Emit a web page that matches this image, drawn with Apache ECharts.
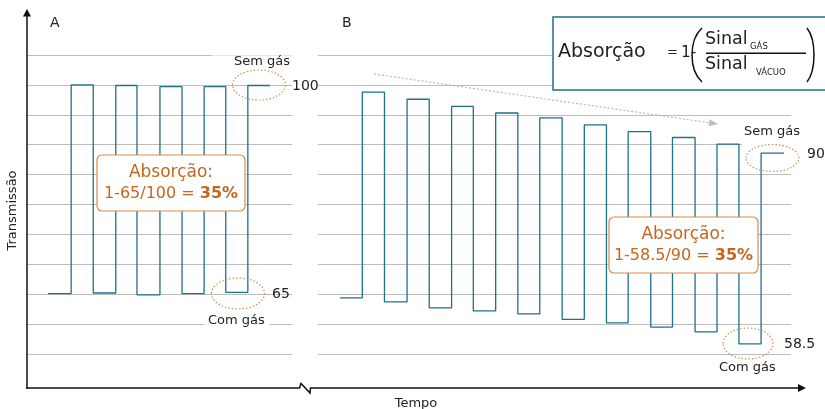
<!DOCTYPE html>
<html><head><meta charset="utf-8">
<script src="https://cdn.jsdelivr.net/npm/echarts@6/dist/echarts.min.js"></script>
<style>html,body{margin:0;padding:0;background:#fff}#c{width:825px;height:409px}</style>
</head><body><div id="c"></div>
<script>
// Panel A: time points where the signal level changes, and the level held from each point
const timeA = [0.95, 2, 3, 4.02, 4.98, 6.02, 7.02, 8.02, 9, 10, 11];
const levelA = [65.1, 100, 65.2, 99.9, 64.9, 99.7, 65.1, 99.7, 65.3, 99.9, 99.9];
// Panel B
const timeB = [1, 2, 3, 4.02, 5.02, 6.03, 7.01, 8.02, 9.02, 10.01, 11.02, 12.02, 13.02, 14, 15.02, 16, 17.02, 18.01, 19, 20, 21.03];
const levelB = [64.4, 98.8, 63.7, 97.6, 62.7, 96.4, 62.2, 95.3, 61.7, 94.5, 60.8, 93.3, 60.2, 92.2, 59.5, 91.2, 58.7, 90.1, 56.7, 88.6, 88.6];
// Value axis range and gridline step
const yMin = 55, yMax = 105, yStep = 5;
// Reference value labels
const refLabelsA = ['100', '65'];
const refLabelsB = ['90', '58.5'];
const boxTextA = ['Absorção:', '1-65/100 = ', '35%'];
const boxTextB = ['Absorção:', '1-58.5/90 = ', '35%'];

const FONT = "'DejaVu Sans', sans-serif";
const TXT = '#222';
const ORANGE = '#c4661f';
const ORANGE_LINE = '#d98b4c';
const TEAL = '#1f6f8f';

function txt(x, y, text, size, opts) {
  opts = opts || {};
  return {
    type: 'text', x: x, y: y, z: opts.z || 20, rotation: opts.rotation || 0,
    style: {
      text: text, font: (opts.weight || 'normal') + ' ' + size + 'px ' + FONT,
      fill: opts.fill || TXT,
      align: opts.align || 'left', textAlign: opts.align || 'left',
      verticalAlign: 'middle', textVerticalAlign: 'middle'
    }
  };
}
function ellipse(cx, cy, rx, ry) {
  return { type: 'ellipse', z: 15, shape: { cx: cx, cy: cy, rx: rx, ry: ry },
    style: { fill: 'none', stroke: ORANGE_LINE, lineWidth: 1.2, lineDash: [1.5, 2] } };
}
function whiteRect(x, y, w, h, op) {
  return { type: 'rect', z: 5, shape: { x: x, y: y, width: w, height: h },
    style: { fill: 'rgba(255,255,255,' + (op || 1) + ')' } };
}
function absBox(x, y, w, h, lines) {
  return [
    { type: 'rect', z: 12, shape: { x: x, y: y, width: w, height: h, r: 5 },
      style: { fill: '#fff', stroke: ORANGE_LINE, lineWidth: 1.2 } },
    { type: 'text', z: 13, x: x + w / 2, y: y + h / 2,
      style: {
        text: '{a|' + lines[0] + '}\n' + lines[1] + '{b|' + lines[2] + '}',
        font: '16px ' + FONT, fill: ORANGE, lineHeight: 21,
        align: 'center', textAlign: 'center', verticalAlign: 'middle', textVerticalAlign: 'middle',
        rich: {
          a: { fontSize: 17, fontFamily: FONT, fill: ORANGE, color: ORANGE, lineHeight: 21 },
          b: { fontWeight: 'bold', fontSize: 16, fontFamily: FONT, fill: ORANGE, color: ORANGE, lineHeight: 21 }
        }
      } }
  ];
}

const chart = echarts.init(document.getElementById('c'), null, { renderer: 'canvas' });

const yAxisBase = {
  type: 'value', min: yMin, max: yMax, interval: yStep,
  axisLine: { show: false }, axisTick: { show: false }, axisLabel: { show: false },
  splitLine: { show: true, lineStyle: { color: '#bdbdbd', width: 1.2 } }
};
const xAxisBase = {
  type: 'value', axisLine: { show: false }, axisTick: { show: false },
  axisLabel: { show: false }, splitLine: { show: false }
};

const graphics = [
  // axes
  { type: 'line', z: 20, shape: { x1: 27, y1: 389, x2: 27, y2: 15 }, style: { stroke: '#111', lineWidth: 1.5 } },
  { type: 'polygon', z: 20, shape: { points: [[27, 9], [23, 16.5], [31, 16.5]] }, style: { fill: '#111' } },
  { type: 'polyline', z: 20, shape: { points: [[26.3, 388], [299.5, 388], [301, 383.5], [310, 393], [310.5, 388], [799, 388]] },
    style: { stroke: '#111', lineWidth: 1.5, fill: 'none' } },
  { type: 'polygon', z: 20, shape: { points: [[806, 388], [798, 384], [798, 392]] }, style: { fill: '#111' } },

  // covers behind labels
  whiteRect(212, 50, 80, 22, 0.6),
  whiteRect(204, 313, 66, 17),
  whiteRect(742, 123, 58, 24),

  // formula box
  { type: 'rect', z: 12, shape: { x: 553, y: 17, width: 290, height: 73 },
    style: { fill: '#fff', stroke: '#1f6f8f', lineWidth: 1.5 } },
  txt(558, 52, 'Absorção', 19, { z: 13 }),
  txt(667, 53, '=', 13, { z: 13 }),
  txt(681, 53, '1-', 15.5, { z: 13 }),
  { type: 'bezierCurve', z: 13, shape: { x1: 702, y1: 28, cpx1: 688.7, cpy1: 40, cpx2: 688.7, cpy2: 70, x2: 702, y2: 82 },
    style: { stroke: '#111', lineWidth: 1.5, fill: 'none' } },
  { type: 'bezierCurve', z: 13, shape: { x1: 807, y1: 28, cpx1: 816.3, cpy1: 40, cpx2: 816.3, cpy2: 70, x2: 807, y2: 82 },
    style: { stroke: '#111', lineWidth: 1.5, fill: 'none' } },
  txt(705, 39, 'Sinal', 17.5, { z: 13 }),
  txt(750, 47, 'GÁS', 8.5, { z: 13 }),
  { type: 'line', z: 13, shape: { x1: 706, y1: 53.3, x2: 806, y2: 53.3 }, style: { stroke: '#111', lineWidth: 1.5 } },
  txt(705, 64, 'Sinal', 17.5, { z: 13 }),
  txt(756, 73, 'VÁCUO', 8.5, { z: 13 }),

  // trend arrow
  { type: 'line', z: 8, shape: { x1: 374, y1: 74, x2: 710, y2: 122.8 },
    style: { stroke: '#b8b8b8', lineWidth: 1.2, lineDash: [2, 2] } },
  { type: 'polygon', z: 8, shape: { points: [[718, 124], [708.6, 126.2], [709.6, 119.2]] }, style: { fill: '#bdbdbd' } },

  // ellipses
  ellipse(259, 85, 26.5, 15),
  ellipse(238, 293.5, 26.5, 15.5),
  ellipse(772.5, 158, 26.5, 13.5),
  ellipse(748, 343.5, 25, 15.5),

  // texts
  txt(50, 23, 'A', 14),
  txt(342, 23, 'B', 14),
  txt(234, 62, 'Sem gás', 13),
  txt(208, 321, 'Com gás', 13),
  txt(744, 131.5, 'Sem gás', 13),
  txt(719, 368, 'Com gás', 13),
  txt(292, 86, refLabelsA[0], 14),
  txt(272, 294, refLabelsA[1], 14),
  txt(807, 154, refLabelsB[0], 14),
  txt(784, 344, refLabelsB[1], 14),
  txt(416, 404, 'Tempo', 13, { align: 'center' }),
  txt(13, 210.5, 'Transmissão', 13, { align: 'center', rotation: Math.PI / 2 })
].concat(absBox(97, 155, 148, 56, boxTextA), absBox(609, 217, 149, 56, boxTextB));

chart.setOption({
  animation: false,
  backgroundColor: '#fff',
  grid: [
    { left: 27, top: 55, width: 265, height: 299, containLabel: false },
    { left: 318, top: 55, width: 473, height: 299, containLabel: false }
  ],
  xAxis: [
    Object.assign({ gridIndex: 0, min: 0, max: 12 }, xAxisBase),
    Object.assign({ gridIndex: 1, min: 0, max: 21.35 }, xAxisBase)
  ],
  yAxis: [
    Object.assign({ gridIndex: 0 }, yAxisBase),
    Object.assign({ gridIndex: 1 }, yAxisBase)
  ],
  series: [
    { type: 'line', xAxisIndex: 0, yAxisIndex: 0, step: 'end', showSymbol: false,
      data: timeA.map((t, i) => [t, levelA[i]]),
      lineStyle: { color: TEAL, width: 1.3 }, z: 2 },
    { type: 'line', xAxisIndex: 1, yAxisIndex: 1, step: 'end', showSymbol: false,
      data: timeB.map((t, i) => [t, levelB[i]]),
      lineStyle: { color: TEAL, width: 1.3 }, z: 2 }
  ],
  graphic: graphics
});
</script></body></html>
